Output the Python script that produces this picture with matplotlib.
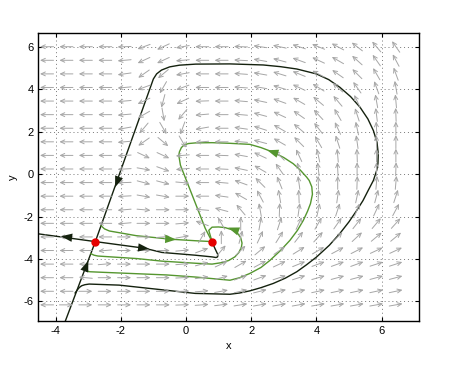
import numpy as np
import matplotlib.pyplot as plt

plt.rcParams['font.family'] = ['Liberation Sans', 'DejaVu Sans']

# direction field: arrow grid (angles in degrees, 0 = right, 90 = up)
xs = -4.27 + 0.595 * np.arange(19)
ys = 6.0 - 0.64 * np.arange(20)
angles = [
    [180, 180, 180, 180, 182, 200, 205, 190, 180, 180, 178, 172, 168, 162, 158, 152, 142, 130, 125],
    [180, 180, 180, 180, 185, 205, 205, 185, 180, 180, 177, 170, 165, 160, 155, 150, 138, 125, 118],
    [180, 180, 180, 180, 188, 215, 220, 190, 180, 180, 176, 170, 163, 158, 152, 145, 135, 120, 110],
    [180, 180, 180, 180, 185, 200, 240, 200, 180, 180, 176, 170, 163, 155, 148, 138, 125, 110, 100],
    [180, 180, 180, 180, 185, 205, 255, 205, 182, 180, 175, 168, 160, 150, 140, 130, 115, 100, 95],
    [180, 180, 180, 180, 185, 210, 280, 230, 185, 180, 175, 165, 155, 145, 133, 120, 108, 97, 92],
    [180, 180, 180, 180, 190, 230, 300, 250, 190, 180, 172, 162, 150, 140, 128, 115, 102, 93, 90],
    [180, 180, 180, 180, 185, 215, 320, 300, 185, 180, 175, 165, 150, 135, 120, 108, 98, 92, 90],
    [180, 180, 180, 180, 183, 335, 335, 185, 180, 178, 170, 155, 135, 115, 102, 95, 92, 90, 90],
    [180, 180, 180, 180, 183, 350, 340, 185, 180, 177, 168, 150, 125, 105, 97, 93, 90, 90, 88],
    [180, 180, 180, 180, 182, 345, 345, 355, 180, 175, 160, 135, 112, 98, 92, 90, 88, 85, 85],
    [180, 180, 180, 180, 183, 350, 350, 0, 180, 172, 150, 118, 100, 92, 88, 82, 78, 75, 72],
    [180, 180, 180, 180, 185, 355, 0, 0, 175, 165, 130, 100, 88, 82, 78, 72, 68, 65, 62],
    [180, 180, 180, 180, 185, 0, 0, 5, 160, 120, 90, 80, 72, 65, 60, 55, 52, 50, 48],
    [180, 180, 180, 180, 0, 0, 5, 10, 60, 90, 75, 65, 58, 52, 48, 45, 43, 40, 40],
    [180, 180, 180, 185, 0, 0, 0, 5, 20, 50, 45, 40, 35, 32, 30, 28, 27, 25, 25],
    [180, 180, 180, 5, 0, 0, 0, 5, 15, 25, 30, 28, 25, 22, 20, 20, 20, 18, 18],
    [180, 180, 175, 0, 0, 0, 0, 3, 8, 15, 20, 20, 18, 18, 16, 15, 15, 15, 15],
    [180, 180, 0, 0, 0, 0, 0, 2, 5, 10, 13, 14, 14, 13, 12, 12, 12, 12, 12],
    [180, 0, 0, 0, 0, 0, 0, 2, 4, 7, 9, 10, 10, 10, 10, 10, 10, 10, 10],
]

# equilibria
eq_x = [-2.78, 0.8]
eq_y = [-3.18, -3.18]

# separatrices of the saddle (black)
stable_low_x = [-3.7, -2.78]
stable_low_y = [-6.92, -3.18]
outer_x = [-3.4, -3.33, -3.27, -3.2, -3.1, -2.97, -2.05, -0.61, 0.28, 1.35, 1.65, 1.96, 2.3, 2.68,
           3.05, 3.4, 3.7, 4.01, 4.4, 4.72, 5.0, 5.24, 5.43, 5.59, 5.75, 5.85, 5.89, 5.9, 5.86,
           5.75, 5.58, 5.34, 5.05, 4.72, 4.38, 4.0, 3.4, 2.9, 2.37, 1.35, 0.3, -0.2, -0.5, -0.75,
           -0.9, -1.0, -2.78]
outer_y = [-5.6, -5.45, -5.34, -5.26, -5.21, -5.18, -5.23, -5.47, -5.62, -5.66, -5.6, -5.5, -5.35,
           -5.15, -4.9, -4.6, -4.27, -3.9, -3.35, -2.8, -2.25, -1.71, -1.25, -0.77, -0.3, 0.17, 0.5,
           0.96, 1.5, 2.05, 2.6, 3.15, 3.65, 4.09, 4.45, 4.72, 4.95, 5.06, 5.14, 5.19, 5.18, 5.13,
           5.05, 4.9, 4.72, 4.48, -3.18]
unst_left_x = [-2.78, -4.6]
unst_left_y = [-3.18, -2.8]
unst_right_x = [-2.78, -1.28, -0.74, 0.28, 0.8, 0.92, 0.97, 0.98, 0.9, 0.82]
unst_right_y = [-3.18, -3.49, -3.69, -3.82, -3.9, -3.93, -3.9, -3.8, -3.54, -3.27]

# other solutions (green)
g1_x = [-2.6, -2.5, -2.35, -1.9, -1.53, -0.45, 0.3, 0.8]
g1_y = [-2.44, -2.58, -2.68, -2.8, -2.9, -3.07, -3.14, -3.18]
g2_x = [-2.92, -2.82, -2.7, -1.5, -0.74, 0.3, 0.8, 1.1, 1.31, 1.5, 1.62, 1.7, 1.72, 1.68, 1.58,
        1.41, 1.2, 1.0, 0.8, 0.7, 0.8]
g2_y = [-3.75, -3.82, -3.86, -3.98, -4.1, -4.2, -4.24, -4.17, -4.07, -3.9, -3.7, -3.45, -3.25, -3.0,
        -2.78, -2.62, -2.52, -2.49, -2.5, -2.65, -3.18]
g3_x = [-3.1, -3.05, -2.95, -2.5, -0.6, 0.3, 1.35, 1.65, 1.96, 2.3, 2.58, 2.9, 3.19, 3.42, 3.6, 3.73,
        3.82, 3.88, 3.86, 3.78, 3.7, 3.5, 3.29, 3.0, 2.68, 2.3, 1.96, 1.35, 0.8, 0.3, 0.08, -0.05,
        -0.14, -0.2, -0.22, -0.17, 0.59, 0.8]
g3_y = [-4.5, -4.56, -4.6, -4.63, -4.75, -4.85, -5.0, -4.88, -4.68, -4.4, -4.06, -3.6, -3.12, -2.65,
        -2.18, -1.75, -1.39, -0.95, -0.6, -0.3, -0.14, 0.2, 0.49, 0.78, 1.03, 1.25, 1.4, 1.45, 1.48,
        1.47, 1.44, 1.38, 1.25, 1.05, 0.89, 0.42, -2.55, -3.18]

# direction markers on the solutions: (x, y, dx, dy)
black_marks = [(-2.12, -0.4, -0.25, -1.0), (-3.05, -4.3, 0.25, 1.0),
               (-3.68, -2.96, -1.0, 0.2), (-1.28, -3.49, 1.0, -0.18)]
green_marks = [(-0.45, -3.07, 1.0, -0.08), (1.44, -2.6, -0.8, 0.45), (2.64, 1.05, -0.9, 0.45)]

xmin, xmax, ymin, ymax = -4.53, 7.14, -6.92, 6.66
W, H = 461, 370
ax_l, ax_r, ax_b, ax_t = 38.3, 418.7, 49.0, 337.3

fig = plt.figure(figsize=(W / 100, H / 100), dpi=100)
ax = fig.add_axes([ax_l / W, ax_b / H, (ax_r - ax_l) / W, (ax_t - ax_b) / H])
ax.set_xlim(xmin, xmax)
ax.set_ylim(ymin, ymax)
sx = (ax_r - ax_l) / (xmax - xmin)
sy = (ax_t - ax_b) / (ymax - ymin)

L = 13.5  # arrow length in pixels
for j, yv in enumerate(ys):
    for i, xv in enumerate(xs):
        a = np.deg2rad(angles[j][i])
        ddx = 0.5 * L * np.cos(a) / sx
        ddy = 0.5 * L * np.sin(a) / sy
        ax.annotate('', xy=(xv + ddx, yv + ddy), xytext=(xv - ddx, yv - ddy),
                    arrowprops=dict(arrowstyle='->,head_length=0.3,head_width=0.14',
                                    color='#a6a6a6', lw=0.7, shrinkA=0, shrinkB=0))

black = '#14210e'
green = '#55962f'
ax.plot(stable_low_x, stable_low_y, color=black, lw=1.0)
ax.plot(outer_x, outer_y, color=black, lw=1.0)
ax.plot(unst_left_x, unst_left_y, color=black, lw=1.0)
ax.plot(unst_right_x, unst_right_y, color=black, lw=1.0)
for gx, gy in [(g1_x, g1_y), (g2_x, g2_y), (g3_x, g3_y)]:
    ax.plot(gx, gy, color=green, lw=1.0)

for marks, c in [(black_marks, black), (green_marks, green)]:
    for mx, my, ux, uy in marks:
        n = np.hypot(ux * sx, uy * sy)
        ex, ey = 5 * ux / n, 5 * uy / n
        ax.annotate('', xy=(mx + ex, my + ey), xytext=(mx - ex, my - ey),
                    arrowprops=dict(arrowstyle='-|>,head_length=0.8,head_width=0.3',
                                    color=c, lw=0, shrinkA=0, shrinkB=0))

ax.plot(eq_x, eq_y, 'o', color='#e50000', ms=5, zorder=5)

ax.set_xticks([-4, -2, 0, 2, 4, 6])
ax.set_yticks([-6, -4, -2, 0, 2, 4, 6])
ax.set_xticklabels(['-4', '-2', '0', '2', '4', '6'])
ax.set_yticklabels(['-6', '-4', '-2', '0', '2', '4', '6'])
ax.grid(True, ls=(0, (1, 3)), color='#777777', lw=0.7)
ax.tick_params(direction='in', top=True, right=True, labelsize=8, length=3)
ax.set_xlabel('x', fontsize=8)
ax.set_ylabel('y', fontsize=8)
for s in ax.spines.values():
    s.set_linewidth(1.0)

fig.savefig('out.png', dpi=100)
